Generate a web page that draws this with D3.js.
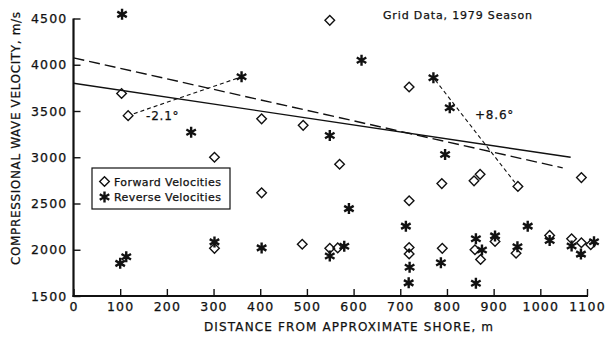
<!DOCTYPE html>
<html><head><meta charset="utf-8">
<script src="https://cdn.jsdelivr.net/npm/d3@7"></script>
<style>
html,body{margin:0;padding:0;background:#fff;}
svg text{font-family:"DejaVu Sans",sans-serif;fill:#111;stroke:#111;stroke-width:0.25px;}
</style></head>
<body><svg id="c" width="605" height="337"></svg>
<script>
// ---- data ----
const forwardX = [103,117,302,302,403,403,492,490,549,549,566,570,719,719,719,719,789,790,858,871,860,872,952,903,948,1020,1088,1067,1088,1108];
const forwardY = [3690,3450,3000,2015,3415,2615,3345,2060,4480,2015,2020,2925,3760,2530,2025,1955,2715,2015,2745,2815,2000,1895,2685,2090,1963,2155,2780,2118,2075,2055];
const reverseX = [104,100,113,360,252,302,403,549,549,580,590,617,712,720,718,771,806,796,787,862,875,862,903,973,951,1020,1067,1087,1115];
const reverseY = [4545,1853,1925,3870,3270,2085,2020,3235,1932,2038,2445,4048,2255,1810,1642,3860,3535,3030,1860,2118,1998,1637,2150,2255,2032,2100,2040,1953,2086];
const solidFitX = [0,1065];
const solidFitY = [3800,3000];
const dashFitX = [0,1048];
const dashFitY = [4075,2885];
const shortLine1X = [117,360];
const shortLine1Y = [3450,3870];
const shortLine1Label = "-2.1°";
const shortLine2X = [771,952];
const shortLine2Y = [3860,2685];
const shortLine2Label = "+8.6°";
const xTicks = [0,100,200,300,400,500,600,700,800,900,1000,1100];
const yTicks = [1500,2000,2500,3000,3500,4000,4500];
const title = "Grid Data, 1979 Season";
const xTitle = "DISTANCE FROM APPROXIMATE SHORE, m";
const yTitle = "COMPRESSIONAL WAVE VELOCITY, m/s";
const legendLabels = ["Forward Velocities","Reverse Velocities"];

// ---- layout ----
const svg = d3.select("#c");
const x = d3.scaleLinear().domain([0,1100]).range([73.5,587]);
const y = d3.scaleLinear().domain([1500,4500]).range([296,18.5]);

// axes
const xAxis = d3.axisBottom(x).tickValues(xTicks).tickSize(-7).tickPadding(14).tickFormat(d3.format("d"));
const gx = svg.append("g").attr("transform","translate(0,296)").call(xAxis);
gx.select(".domain").attr("d",`M${x(0)-1},0H${x(1100)+1}`).attr("stroke","#111").attr("stroke-width",2.2);
gx.selectAll(".tick line").attr("stroke","#111").attr("stroke-width",1.4);
gx.selectAll(".tick text").attr("font-size",12.5).attr("letter-spacing","1.2px").attr("dy","0.1em").style("font-family","DejaVu Sans").attr("fill","#111");

const yAxis = d3.axisLeft(y).tickValues(yTicks).tickSize(-7).tickPadding(6).tickFormat(d3.format("d"));
const gy = svg.append("g").attr("transform",`translate(${x(0)},0)`).call(yAxis);
gy.select(".domain").attr("d",`M0,${y(4500)}V${y(1500)+1}`).attr("stroke","#111").attr("stroke-width",2.2);
gy.selectAll(".tick line").attr("stroke","#111").attr("stroke-width",1.4);
gy.selectAll(".tick text").attr("font-size",12.5).attr("letter-spacing","1.2px").style("font-family","DejaVu Sans").attr("fill","#111");

// axis titles
svg.append("text").attr("x",204).attr("y",331).attr("font-size",12)
  .attr("textLength",289).attr("lengthAdjust","spacing").text(xTitle);
svg.append("text").attr("transform","translate(20,265) rotate(-90)").attr("font-size",12)
  .attr("textLength",253).attr("lengthAdjust","spacing").text(yTitle);

// title
svg.append("text").attr("x",383).attr("y",19).attr("font-size",11)
  .attr("textLength",149).attr("lengthAdjust","spacing").text(title);

// fit lines
const line = d3.line().x(d=>x(d[0])).y(d=>y(d[1]));
svg.append("path").attr("d",line(d3.zip(solidFitX,solidFitY))).attr("fill","none").attr("stroke","#111").attr("stroke-width",1.4);
svg.append("path").attr("d",line(d3.zip(dashFitX,dashFitY))).attr("fill","none").attr("stroke","#111").attr("stroke-width",1.4).attr("stroke-dasharray","11,5");

function shortSeg(xs, ys, s0, s1){
  const x0=x(xs[0]),y0=y(ys[0]),x1=x(xs[1]),y1=y(ys[1]);
  const L=Math.hypot(x1-x0,y1-y0), ux=(x1-x0)/L, uy=(y1-y0)/L;
  return `M${x0+ux*s0},${y0+uy*s0}L${x1-ux*s1},${y1-uy*s1}`;
}
svg.append("path").attr("d",shortSeg(shortLine1X,shortLine1Y,6,3)).attr("fill","none").attr("stroke","#111").attr("stroke-width",1.1).attr("stroke-dasharray","4,3");
svg.append("path").attr("d",shortSeg(shortLine2X,shortLine2Y,3,5)).attr("fill","none").attr("stroke","#111").attr("stroke-width",1.1).attr("stroke-dasharray","4,3");
svg.append("text").attr("x",146).attr("y",119.5).attr("font-size",12).attr("letter-spacing","0.8px").text(shortLine1Label);
svg.append("text").attr("x",475).attr("y",118.5).attr("font-size",12).attr("letter-spacing","0.8px").text(shortLine2Label);

// markers
const diamondPath = (cx,cy,r)=>`M${cx},${cy-r}L${cx+r},${cy}L${cx},${cy+r}L${cx-r},${cy}Z`;
const starPath = (cx,cy,r)=>{
  let p="";
  for(const a of [90,30,-30]){
    const rad=a*Math.PI/180, dx=Math.cos(rad)*r, dy=Math.sin(rad)*r;
    p+=`M${cx-dx},${cy-dy}L${cx+dx},${cy+dy}`;
  }
  return p;
};
svg.append("g").selectAll("path").data(d3.zip(forwardX,forwardY)).join("path")
  .attr("d",d=>diamondPath(x(d[0]),y(d[1]),4.8)).attr("fill","none").attr("stroke","#111").attr("stroke-width",1.4);
svg.append("g").selectAll("path").data(d3.zip(reverseX,reverseY)).join("path")
  .attr("d",d=>starPath(x(d[0]),y(d[1]),5.5)).attr("fill","none").attr("stroke","#111").attr("stroke-width",2.4);

// legend
const lg = svg.append("g");
lg.append("rect").attr("x",92).attr("y",168).attr("width",138).attr("height",41).attr("fill","#fff").attr("stroke","#111").attr("stroke-width",1.2);
lg.append("path").attr("d",diamondPath(104.5,181.5,4.8)).attr("fill","none").attr("stroke","#111").attr("stroke-width",1.4);
lg.append("path").attr("d",starPath(104.5,197,5.5)).attr("fill","none").attr("stroke","#111").attr("stroke-width",2.4);
lg.selectAll("text.l").data(legendLabels).join("text").attr("class","l")
  .attr("x",114).attr("y",(d,i)=>185.5+i*15.5).attr("font-size",11)
  .attr("textLength",107).attr("lengthAdjust","spacing").text(d=>d);
</script></body></html>
